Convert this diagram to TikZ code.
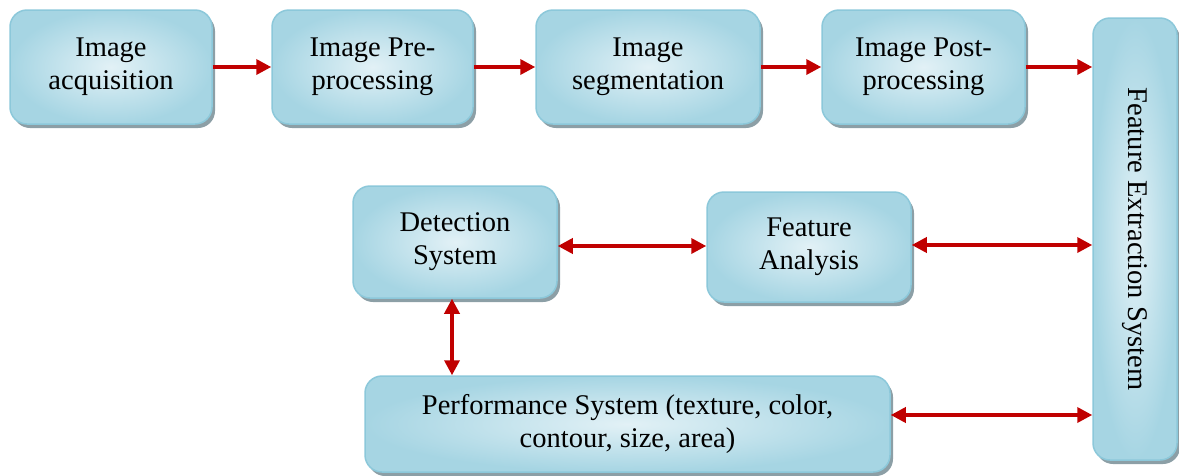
\documentclass[tikz,border=0pt]{standalone}
\usepackage{fontspec}
\setmainfont{Liberation Serif}
\usetikzlibrary{arrows.meta,shadows}
\definecolor{boxlight}{HTML}{E2F1F6}
\definecolor{boxdark}{HTML}{A6D5E3}
\definecolor{boxline}{HTML}{8CC8DA}
\definecolor{shadowgray}{HTML}{8C9FA6}
\definecolor{arrred}{HTML}{C00000}
\begin{document}
\begin{tikzpicture}[x=1pt,y=-1pt,
    every node/.style={draw=boxline,line width=1.5pt,rounded corners=17pt,
      shade,inner color=boxlight,outer color=boxdark,align=center,
      font=\fontsize{28.5}{33}\selectfont,
      drop shadow={shadow xshift=3pt,shadow yshift=-4pt,fill=shadowgray,opacity=1}},
    arr/.style={draw=arrred,line width=3.5pt,-{Triangle[length=15pt,width=15pt]}},
    both/.style={arr,{Triangle[length=15pt,width=15pt]}-{Triangle[length=15pt,width=15pt]}}]
  \useasboundingbox (0,0) rectangle (1179,475);

  \node[minimum width=202pt,minimum height=114pt] (acq) at (111,67) {Image\\acquisition};
  \node[minimum width=201pt,minimum height=114pt] (pre) at (372.5,67) {Image Pre-\\processing};
  \node[minimum width=224pt,minimum height=114pt] (seg) at (648,67) {Image\\segmentation};
  \node[minimum width=203pt,minimum height=114pt] (post) at (923.5,67) {Image Post-\\processing};
  \node[minimum width=84pt,minimum height=442pt] (fes) at (1135,239) {\rotatebox{-90}{Feature Extraction System}};

  \node[minimum width=204pt,minimum height=112pt] (det) at (455,242) {Detection\\System};
  \node[minimum width=204pt,minimum height=110pt] (fa) at (809,247) {Feature\\Analysis};
  \node[minimum width=525pt,minimum height=96pt] (perf) at (627.5,424) {Performance System (texture, color,\\contour, size, area)};

  \draw[arr] (acq) -- (pre);
  \draw[arr] (pre) -- (seg);
  \draw[arr] (seg) -- (post);
  \draw[arr] (post.east) -- (post.east -| fes.west);
  \draw[both] (det.east |- 0,246) -- (fa.west |- 0,246);
  \draw[both] (fa.east |- 0,245) -- (fa.east |- 0,245 -| fes.west);
  \draw[both] (det.south -| 452,0) -- (perf.north -| 452,0);
  \draw[both] (perf.east |- 0,415) -- (perf.east |- 0,415 -| fes.west);
\end{tikzpicture}
\end{document}
